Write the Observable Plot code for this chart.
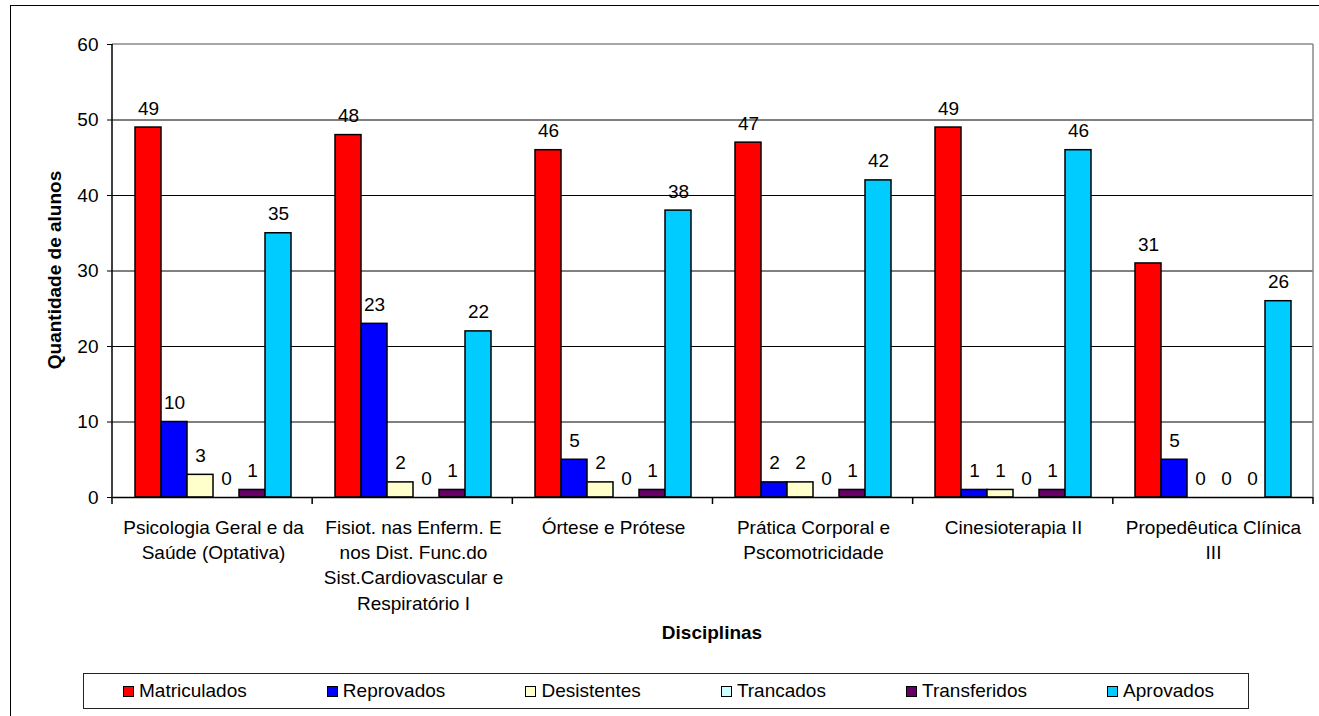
<!DOCTYPE html>
<html><head><meta charset="utf-8">
<script src="https://cdn.jsdelivr.net/npm/d3@7"></script>
<script src="https://cdn.jsdelivr.net/npm/@observablehq/plot@0.6"></script>
<style>
body{margin:0;background:#fff;font-family:"Liberation Sans",Arial,sans-serif;color:#000;}
#wrap{position:relative;width:1319px;height:716px;overflow:hidden;background:#fff;}
#border{position:absolute;left:10px;top:5px;width:1400px;height:800px;border:1.5px solid #000;box-sizing:border-box;}
#chart{position:absolute;left:0;top:0;}
#ytitle{position:absolute;left:55px;top:270px;transform:translate(-50%,-50%) rotate(-90deg);font-weight:bold;font-size:19px;white-space:nowrap;}
#xtitle{position:absolute;left:712px;top:633px;transform:translate(-50%,-50%);font-weight:bold;font-size:19px;white-space:nowrap;}
#legend{position:absolute;left:83px;top:673px;width:1166px;height:36px;border:1.5px solid #222;box-sizing:border-box;display:flex;align-items:center;justify-content:space-between;padding:0 34px 0 39px;font-size:19px;}
.item{display:flex;align-items:center;white-space:nowrap;}
.sw{width:9px;height:9px;border:1.5px solid #000;margin-right:5px;}
</style>
</head><body>
<div id="wrap">
  <div id="border"></div>
  <div id="chart"></div>
  <div id="ytitle">Quantidade de alunos</div>
  <div id="xtitle">Disciplinas</div>
  <div id="legend"></div>
</div>
<script>
const categories = ["Psicologia Geral e da Saúde (Optativa)", "Fisiot. nas Enferm. E nos Dist. Func.do Sist.Cardiovascular e Respiratório I", "Órtese e Prótese", "Prática Corporal e Pscomotricidade", "Cinesioterapia II", "Propedêutica Clínica III"];
const tickLabels = ["Psicologia Geral e da\nSaúde (Optativa)", "Fisiot. nas Enferm. E\nnos Dist. Func.do\nSist.Cardiovascular e\nRespiratório I", "Órtese e Prótese", "Prática Corporal e\nPscomotricidade", "Cinesioterapia II", "Propedêutica Clínica\nIII"];
const series = ["Matriculados", "Reprovados", "Desistentes", "Trancados", "Transferidos", "Aprovados"];
const colors = ["#FF0000", "#0000FF", "#FFFFCC", "#CCFFFF", "#660066", "#00CCFF"];
const matriculados = [49, 48, 46, 47, 49, 31];
const reprovados = [10, 23, 5, 2, 1, 5];
const desistentes = [3, 2, 2, 2, 1, 0];
const trancados = [0, 0, 0, 0, 0, 0];
const transferidos = [1, 1, 1, 1, 1, 0];
const aprovados = [35, 22, 38, 42, 46, 26];
const yTicks = [0, 10, 20, 30, 40, 50, 60];

const valuesBySeries = [matriculados, reprovados, desistentes, trancados, transferidos, aprovados];
const table = [];
categories.forEach((c, i) => series.forEach((s, j) => table.push({category: c, series: s, value: valuesBySeries[j][i]})));

const W = 1319, H = 660;
const chart = Plot.plot({
  width: W, height: H,
  marginTop: 44, marginLeft: 112, marginRight: 6, marginBottom: H - 497,
  style: {fontFamily: '"Liberation Sans", Arial, sans-serif', fontSize: "19px", color: "#000", background: "transparent"},
  fx: {domain: categories, padding: 0, label: null, axis: null},
  x: {domain: series, paddingInner: 0, paddingOuter: 0.75, axis: null},
  y: {domain: [0, 60], label: null, axis: null},
  color: {domain: series, range: colors},
  marks: [
    Plot.ruleY(yTicks.filter(t => t > 0 && t < 60), {stroke: "#000", strokeWidth: 1}),
    Plot.axisY({ticks: yTicks, tickSize: 6, tickPadding: 9, label: null, fontSize: 19}),
    Plot.axisFx({anchor: "bottom", tickSize: 0, tickPadding: 19, lineHeight: 1.32, label: null, fontSize: 19, tickFormat: d => tickLabels[categories.indexOf(d)]}),
    Plot.barY(table, {fx: "category", x: "series", y: "value", fill: "series", stroke: "#000", strokeWidth: 1.5}),
    Plot.text(table, {fx: "category", x: "series", y: "value", text: d => String(d.value), dy: -19, fontSize: 19, fill: "#000"}),
    Plot.ruleY([0], {stroke: "#000", strokeWidth: 1.5})
  ]
});
document.getElementById("chart").appendChild(chart);

// frame details: left axis line, gray plot-area border, boundary ticks between categories
const fxS = chart.scale("fx"), yS = chart.scale("y");
const band = d3.scaleBand(fxS.domain, fxS.range).padding(0);
const y = d3.scaleLinear(yS.domain, yS.range);
const g = d3.select(chart).append("g");
const x0 = fxS.range[0], x1 = fxS.range[1];
g.append("line").attr("x1", x0).attr("x2", x1).attr("y1", y(60)).attr("y2", y(60)).attr("stroke", "#888").attr("stroke-width", 1.5);
g.append("line").attr("x1", x1).attr("x2", x1).attr("y1", y(60)).attr("y2", y(0)).attr("stroke", "#888").attr("stroke-width", 1.5);
g.append("line").attr("x1", x0).attr("x2", x0).attr("y1", y(60)).attr("y2", y(0)).attr("stroke", "#000").attr("stroke-width", 1.5);
const bounds = categories.map(c => band(c)).concat([x1]);
g.selectAll("line.b").data(bounds).join("line").attr("class", "b")
  .attr("x1", d => d).attr("x2", d => d).attr("y1", y(0)).attr("y2", y(0) + 7)
  .attr("stroke", "#000").attr("stroke-width", 1.5);

const legend = d3.select("#legend");
series.forEach((s, i) => {
  const it = legend.append("div").attr("class", "item");
  it.append("div").attr("class", "sw").style("background", colors[i]);
  it.append("span").text(s);
});
</script>
</body></html>
